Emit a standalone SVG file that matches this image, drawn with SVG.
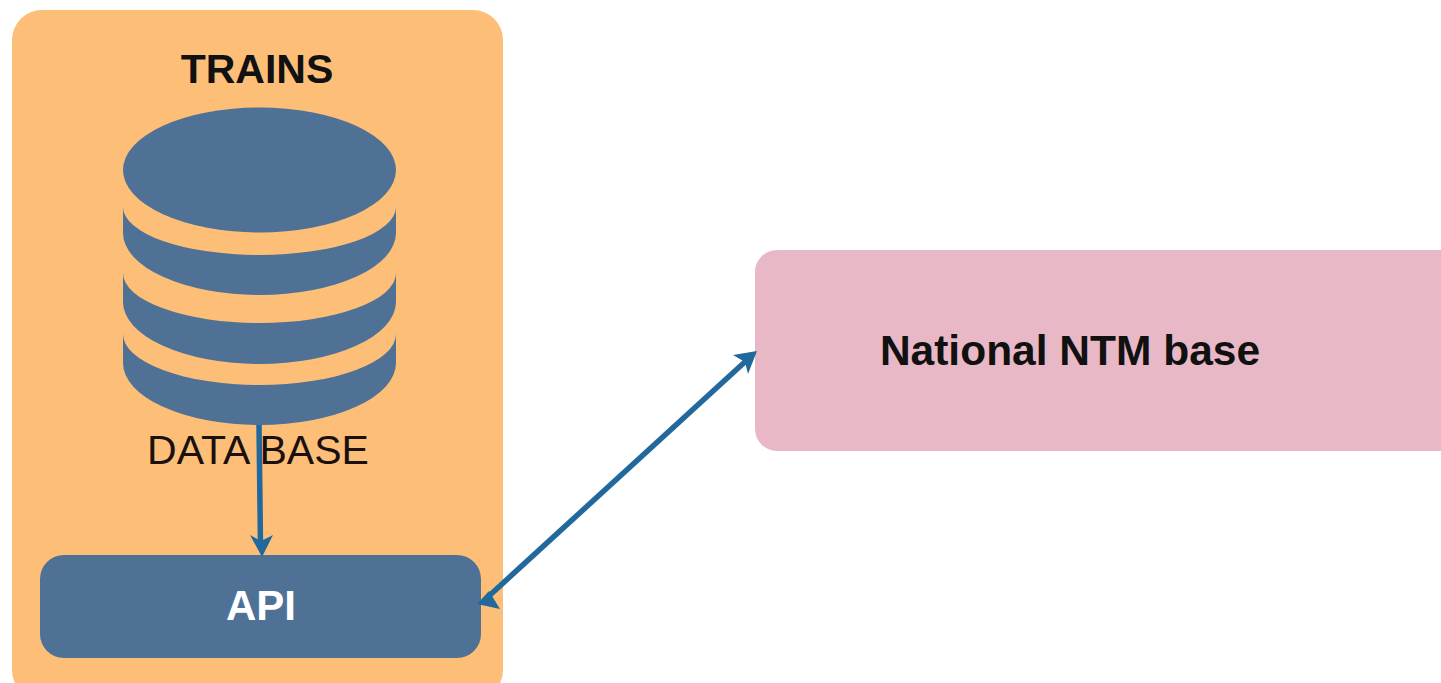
<svg xmlns="http://www.w3.org/2000/svg" width="1441" height="683" viewBox="0 0 1441 683">
<style>
text{font-family:"Liberation Sans",Arial,sans-serif;text-anchor:middle}
.b{font-weight:bold}
.db{fill:#507196}
.c{stroke:#21689c;stroke-width:5.500;fill:none}
.h{fill:#21689c}
</style>
<rect width="1441" height="683" fill="#fff"/>
<g id="trains">
<rect x="12" y="10" width="491" height="690" rx="30" fill="#fdbf78"/>
<text class="b" x="257" y="83" font-size="41" fill="#111">TRAINS</text>
</g>
<g id="database">
<ellipse class="db" cx="259.500" cy="170" rx="136.500" ry="62.500"/>
<path class="db" d="M123,207A136.500,48 0 0 0 396,207V233A136.500,62 0 0 1 123,233Z"/>
<path class="db" d="M123,273A136.500,50 0 0 0 396,273V302A136.500,62 0 0 1 123,302Z"/>
<path class="db" d="M123,334A136.500,51 0 0 0 396,334V363A136.500,62 0 0 1 123,363Z"/>
<text x="258" y="464" font-size="41" fill="#1a1010">DATA BASE</text>
</g>
<g id="api">
<rect x="40" y="555" width="441" height="103" rx="24" fill="#507196"/>
<text class="b" x="261" y="620" font-size="42" fill="#fff">API</text>
</g>
<g id="ntm">
<rect x="755" y="250" width="720" height="201" rx="22" fill="#e9b8c6"/>
<text class="b" x="1070" y="365" font-size="42.500" fill="#111">National NTM base</text>
</g>
<g id="connectors">
<path class="c" d="M259,425L260.500,545"/>
<path class="h" d="M250,535L262,557L273,535L261,541Z"/>
<path class="c" d="M490,595L747,360"/>
<path class="h" d="M733,355L757,351L748,374L745,362Z"/>
<path class="h" d="M477,604L500,609L489,591Z"/>
</g>
</svg>
